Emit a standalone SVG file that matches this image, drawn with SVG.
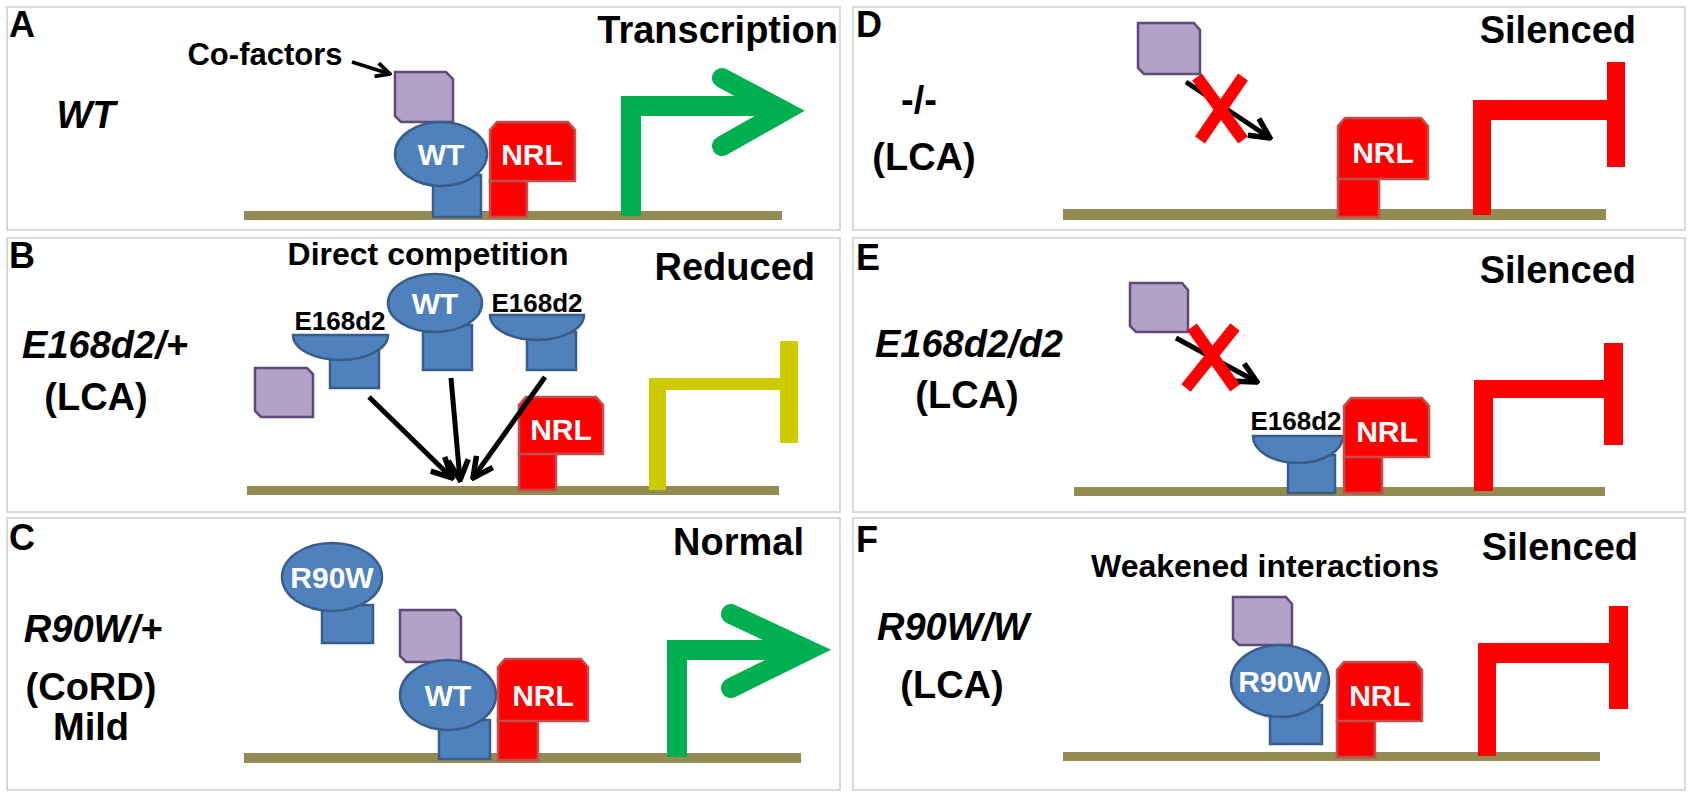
<svg xmlns="http://www.w3.org/2000/svg" width="1695" height="800" viewBox="0 0 1695 800">
<style>
text{font-family:"Liberation Sans",Arial,sans-serif;font-weight:bold}
.pl{fill:#fff;stroke:#d9d9d9;stroke-width:2}
.lt{font-size:36px;fill:#000}
.hd{font-size:38px;text-anchor:end}
.gt{font-size:38px;text-anchor:middle}
.it{font-style:italic}
.sub{font-size:32px;text-anchor:middle}
.dna{fill:#948a54}
.cof{fill:#b3a2c7;stroke:#604a7b;stroke-width:2.5}
.bl{fill:#4f81bd;stroke:#385d8a;stroke-width:2.5}
.nrl{fill:#ff0000;stroke:#c0504d;stroke-width:2.5}
.wl{fill:#fff;font-size:30px;text-anchor:middle}
.el{fill:#000;font-size:26px;text-anchor:middle}
.grn{fill:none;stroke:#00b050;stroke-width:20}
.rd{fill:#ff0000}
.yl{fill:#cccc00}
.ar{fill:none;stroke:#000;stroke-width:5}
.x{stroke:#ff0000;stroke-width:12;stroke-linecap:butt}
</style>
<defs>
<marker id="ah" viewBox="0 0 10 10" refX="9" refY="5" markerWidth="5" markerHeight="5" orient="auto"><path d="M1,1 L9,5 L1,9" fill="none" stroke="#000" stroke-width="2.2"/></marker>
</defs>
<rect width="1695" height="800" fill="#fff"/>
<g id="panels">
<rect class="pl" x="7" y="7" width="833" height="223"/>
<rect class="pl" x="7" y="238" width="833" height="274"/>
<rect class="pl" x="7" y="518" width="833" height="272"/>
<rect class="pl" x="853" y="7" width="832" height="223"/>
<rect class="pl" x="853" y="238" width="832" height="274"/>
<rect class="pl" x="853" y="518" width="832" height="272"/>
</g>
<g id="labels">
<text class="lt" x="9" y="37">A</text>
<text class="lt" x="9" y="268">B</text>
<text class="lt" x="9" y="550">C</text>
<text class="lt" x="856" y="37">D</text>
<text class="lt" x="856" y="270">E</text>
<text class="lt" x="856" y="552">F</text>
<text class="hd" x="838" y="43">Transcription</text>
<text class="hd" x="815" y="280">Reduced</text>
<text class="hd" x="804" y="555">Normal</text>
<text class="hd" x="1636" y="43">Silenced</text>
<text class="hd" x="1636" y="283">Silenced</text>
<text class="hd" x="1638" y="560">Silenced</text>
<text class="gt it" x="86" y="128">WT</text>
<text class="gt it" x="105" y="358">E168d2/+</text>
<text class="gt" x="96" y="410">(LCA)</text>
<text class="gt it" x="93" y="642">R90W/+</text>
<text class="gt" x="91" y="700">(CoRD)</text>
<text class="gt" x="91" y="740">Mild</text>
<text class="gt" x="919" y="113">-/-</text>
<text class="gt" x="924" y="170">(LCA)</text>
<text class="gt it" x="969" y="357">E168d2/d2</text>
<text class="gt" x="967" y="408">(LCA)</text>
<text class="gt it" x="953" y="640">R90W/W</text>
<text class="gt" x="952" y="698">(LCA)</text>
<text x="265" y="65" style="font-size:31px;text-anchor:middle">Co-factors</text>
<text class="sub" x="428" y="265">Direct competition</text>
<text class="sub" x="1265" y="577">Weakened interactions</text>
</g>
<g id="dna">
<rect class="dna" x="244" y="211" width="538" height="9"/>
<rect class="dna" x="247" y="486" width="532" height="9"/>
<rect class="dna" x="244" y="753" width="557" height="10"/>
<rect class="dna" x="1063" y="209" width="543" height="11"/>
<rect class="dna" x="1074" y="487" width="531" height="9"/>
<rect class="dna" x="1063" y="752" width="537" height="9"/>
</g>
<g id="nodeA">
<path class="cof" d="M395,72 H446 L453,79 V122 H401 L395,116 Z"/>
<rect class="bl" x="433" y="175" width="48" height="42"/>
<ellipse class="bl" cx="441" cy="154" rx="46" ry="32"/>
<text class="wl" x="441" y="165">WT</text>
<rect class="nrl" x="490" y="180" width="37" height="37"/>
<path class="nrl" d="M497,122 H568 L575,130 V181 H490 V130 Z"/>
<text class="wl" x="532" y="165">NRL</text>
<path class="grn" d="M631,216 V106 H778"/>
<path class="grn" d="M722,78 L784,111 L722,146" stroke-linecap="round"/>
</g>
<g id="nodeB">
<path class="cof" d="M255,368 H307 L313,374 V417 H261 L255,411 Z"/>
<rect class="bl" x="330" y="350" width="49" height="38"/>
<path class="bl" d="M293,335 H388 A47.5,25 0 0 1 293,335 Z"/>
<text class="el" x="340" y="330">E168d2</text>
<rect class="bl" x="423" y="325" width="49" height="45"/>
<ellipse class="bl" cx="435" cy="303" rx="47" ry="29"/>
<text class="wl" x="435" y="314">WT</text>
<rect class="bl" x="527" y="332" width="49" height="38"/>
<path class="bl" d="M490,315 H584 A47,25 0 0 1 490,315 Z"/>
<text class="el" x="537" y="312">E168d2</text>
<rect class="nrl" x="519" y="453" width="37" height="37"/>
<path class="nrl" d="M526,397 H596 L603,405 V454 H519 V405 Z"/>
<text class="wl" x="561" y="440">NRL</text>
<path class="yl" d="M649,378 H780 V341 H798 V443 H780 V390 H666 V490 H649 Z"/>
</g>
<g id="nodeC">
<rect class="bl" x="322" y="605" width="51" height="38"/>
<ellipse class="bl" cx="332" cy="577" rx="50" ry="34"/>
<text class="wl" x="332" y="588">R90W</text>
<path class="cof" d="M400,610 H455 L461,617 V662 H406 L400,656 Z"/>
<rect class="bl" x="439" y="720" width="51" height="39"/>
<ellipse class="bl" cx="448" cy="695" rx="48" ry="35"/>
<text class="wl" x="448" y="706">WT</text>
<rect class="nrl" x="498" y="720" width="40" height="40"/>
<path class="nrl" d="M505,659 H581 L588,667 V721 H498 V667 Z"/>
<text class="wl" x="543" y="706">NRL</text>
<path class="grn" d="M677,757 V650 H800"/>
<path class="grn" d="M731,614 L808,650 L731,688" stroke-linecap="round"/>
</g>
<g id="nodeD">
<path class="cof" d="M1138,23 H1194 L1200,30 V74 H1144 L1138,68 Z"/>
<rect class="nrl" x="1338" y="178" width="41" height="39"/>
<path class="nrl" d="M1345,118 H1421 L1428,126 V179 H1338 V126 Z"/>
<text class="wl" x="1383" y="163">NRL</text>
<path class="rd" d="M1473,100 H1607 V62 H1625 V167 H1607 V120 H1491 V215 H1473 Z"/>
</g>
<g id="nodeE">
<path class="cof" d="M1130,283 H1182 L1188,290 V332 H1136 L1130,326 Z"/>
<rect class="bl" x="1288" y="455" width="47" height="38"/>
<path class="bl" d="M1253,436 H1343 A45,27 0 0 1 1253,436 Z"/>
<text class="el" x="1296" y="430">E168d2</text>
<rect class="nrl" x="1344" y="456" width="38" height="37"/>
<path class="nrl" d="M1351,398 H1422 L1429,406 V457 H1344 V406 Z"/>
<text class="wl" x="1387" y="442">NRL</text>
<path class="rd" d="M1474,380 H1604 V343 H1623 V445 H1604 V398 H1493 V491 H1474 Z"/>
</g>
<g id="nodeF">
<path class="cof" d="M1233,597 H1286 L1292,604 V645 H1239 L1233,639 Z"/>
<rect class="bl" x="1270" y="705" width="52" height="39"/>
<ellipse class="bl" cx="1280" cy="681" rx="49" ry="36"/>
<text class="wl" x="1280" y="692">R90W</text>
<rect class="nrl" x="1337" y="720" width="38" height="37"/>
<path class="nrl" d="M1344,662 H1415 L1422,670 V721 H1337 V670 Z"/>
<text class="wl" x="1380" y="706">NRL</text>
<path class="rd" d="M1478,643 H1609 V606 H1628 V709 H1609 V663 H1496 V756 H1478 Z"/>
</g>
<g id="connectors">
<line x1="352" y1="62" x2="390" y2="74" stroke="#000" stroke-width="3.5" marker-end="url(#ah)"/>
<line class="ar" x1="369" y1="397" x2="452" y2="478" marker-end="url(#ah)"/>
<line class="ar" x1="451" y1="378" x2="460" y2="480" marker-end="url(#ah)"/>
<line class="ar" x1="545" y1="377" x2="473" y2="478" marker-end="url(#ah)"/>
<line class="ar" x1="1186" y1="82" x2="1270" y2="138" marker-end="url(#ah)"/>
<line class="ar" x1="1176" y1="338" x2="1257" y2="382" marker-end="url(#ah)"/>
<line class="x" x1="1243" y1="77" x2="1200" y2="140"/>
<line class="x" x1="1197" y1="77" x2="1243" y2="140"/>
<line class="x" x1="1235" y1="327" x2="1186" y2="388"/>
<line class="x" x1="1192" y1="327" x2="1235" y2="388"/>
</g>
</svg>
